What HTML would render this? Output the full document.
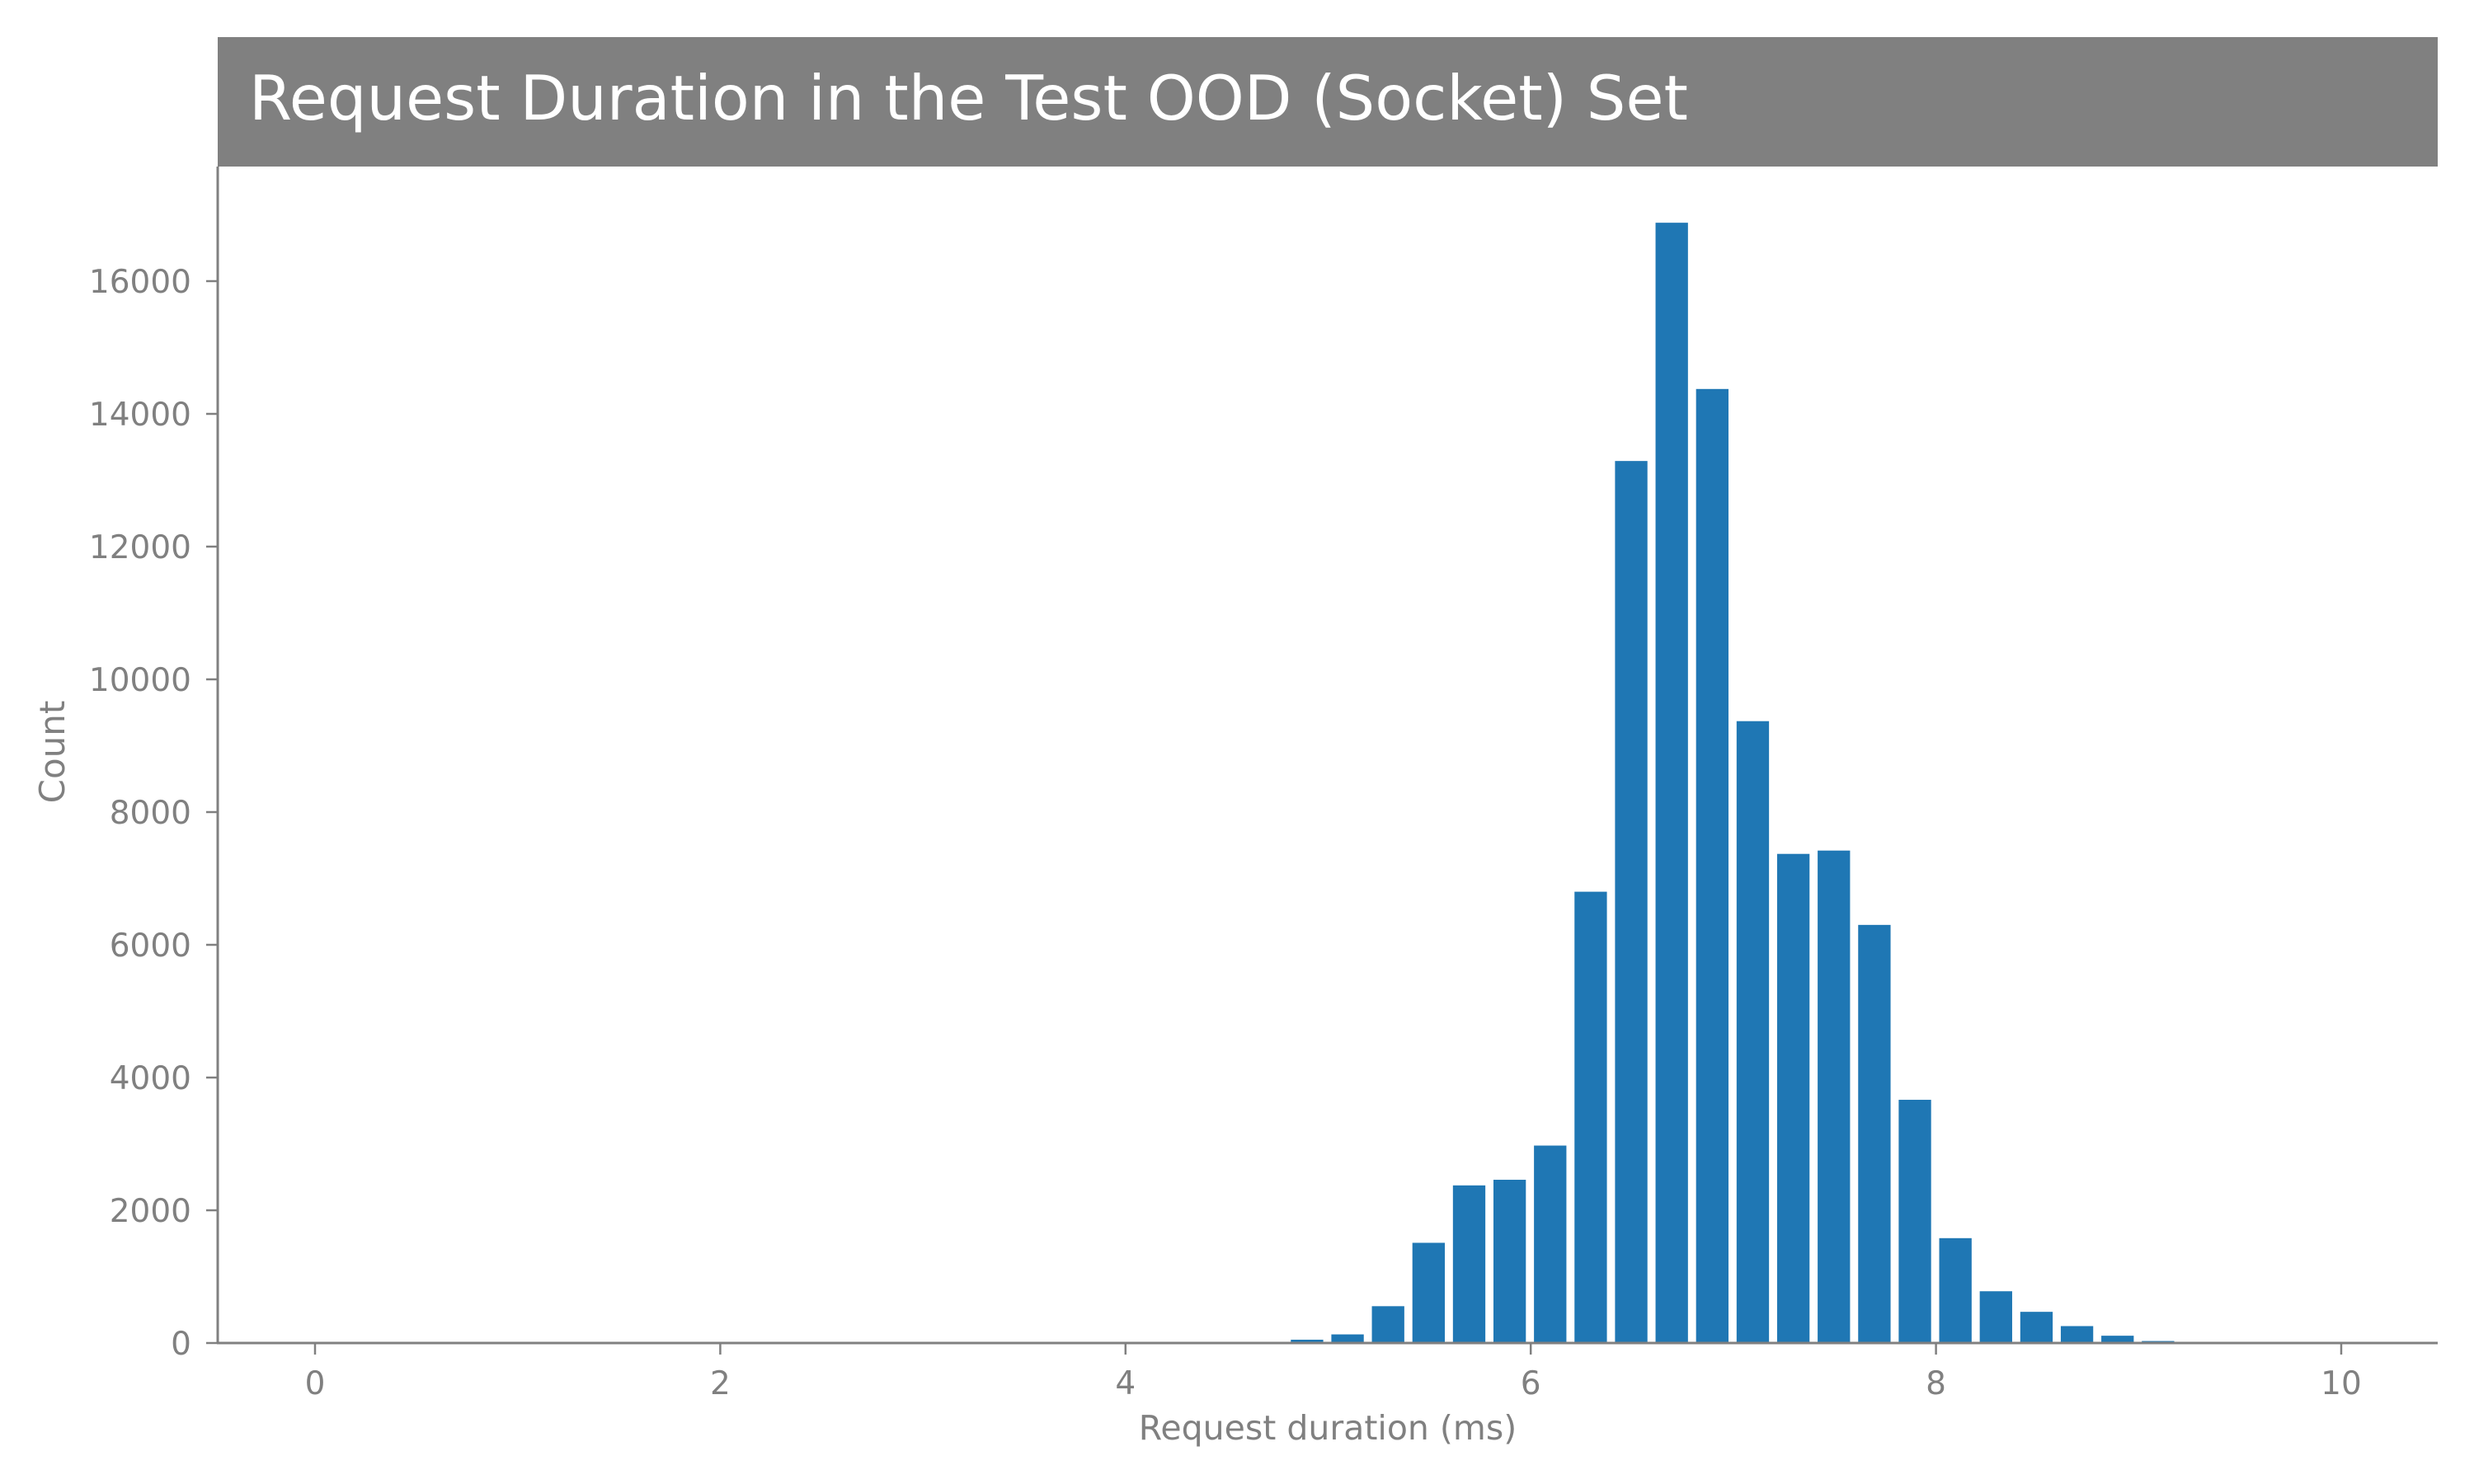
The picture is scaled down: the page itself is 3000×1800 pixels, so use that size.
<!DOCTYPE html>
<html><head><meta charset="utf-8"><style>
html,body{margin:0;padding:0;background:#fff;}
svg{display:block;font-family:"DejaVu Sans","Liberation Sans",sans-serif;}
</style></head><body>
<svg id="chart" width="3000" height="1800" viewBox="0 0 3000 1800" xmlns="http://www.w3.org/2000/svg">
<rect x="264" y="45" width="2692" height="157" fill="#808080"/>
<text x="302" y="145" font-size="75" fill="#ffffff">Request Duration in the Test OOD (Socket) Set</text>
<g id="bars"></g>
<g id="axes"></g>
<text x="1610" y="1746" font-size="41" fill="#808080" text-anchor="middle">Request duration (ms)</text>
<text x="0" y="0" font-size="42" fill="#808080" text-anchor="middle" transform="translate(78,912) rotate(-90)">Count</text>
</svg>
<script>
const binCenters = [4.7,4.9,5.1,5.3,5.5,5.7,5.9,6.1,6.3,6.5,6.7,6.9,7.1,7.3,7.5,7.7,7.9,8.1,8.3,8.5,8.7,8.9,9.1];
const counts = [15,50,130,555,1510,2375,2460,2975,6800,13290,16880,14375,9370,7370,7420,6300,3665,1580,780,470,255,110,30];
const xTicks = [0,2,4,6,8,10];
const yTicks = [0,2000,4000,6000,8000,10000,12000,14000,16000];

const NS = "http://www.w3.org/2000/svg";
const X0 = 382, XU = 245.7, Y0 = 1629, YU = 0.0805;
const binWidth = 0.2, barFrac = 0.8;
function sx(v){ return X0 + v*XU; }
function sy(v){ return Y0 - v*YU; }
function mk(tag, attrs){ const e=document.createElementNS(NS,tag); for(const k in attrs) e.setAttribute(k,attrs[k]); return e; }

const bars = document.getElementById('bars');
binCenters.forEach((c,i)=>{
  const w = binWidth*barFrac*XU;
  const r = mk('rect',{x:sx(c)-w/2-1, y:sy(counts[i]), width:w, height:Y0-sy(counts[i]), fill:'#1f77b4'});
  
  
  bars.appendChild(r);
});

const axes = document.getElementById('axes');
const yl = mk('line',{x1:264,y1:202,x2:264,y2:Y0,stroke:'#808080','stroke-width':3});


axes.appendChild(yl);
const xl = mk('line',{x1:263,y1:Y0,x2:2956,y2:Y0,stroke:'#808080','stroke-width':3});


axes.appendChild(xl);

xTicks.forEach(t=>{
  const tk = mk('line',{x1:sx(t),y1:Y0,x2:sx(t),y2:Y0+14,stroke:'#808080','stroke-width':2.5});
  
  
  axes.appendChild(tk);
  const tx = mk('text',{x:sx(t),y:Y0+62,'font-size':39,fill:'#808080','text-anchor':'middle'});
  tx.textContent = String(t);
  
  
  axes.appendChild(tx);
});
yTicks.forEach(t=>{
  const tk = mk('line',{x1:250,y1:sy(t),x2:264,y2:sy(t),stroke:'#808080','stroke-width':2.5});
  
  
  axes.appendChild(tk);
  const tx = mk('text',{x:232,y:sy(t)+14,'font-size':39,fill:'#808080','text-anchor':'end'});
  tx.textContent = String(t);
  
  
  axes.appendChild(tx);
});
</script>
</body></html>
